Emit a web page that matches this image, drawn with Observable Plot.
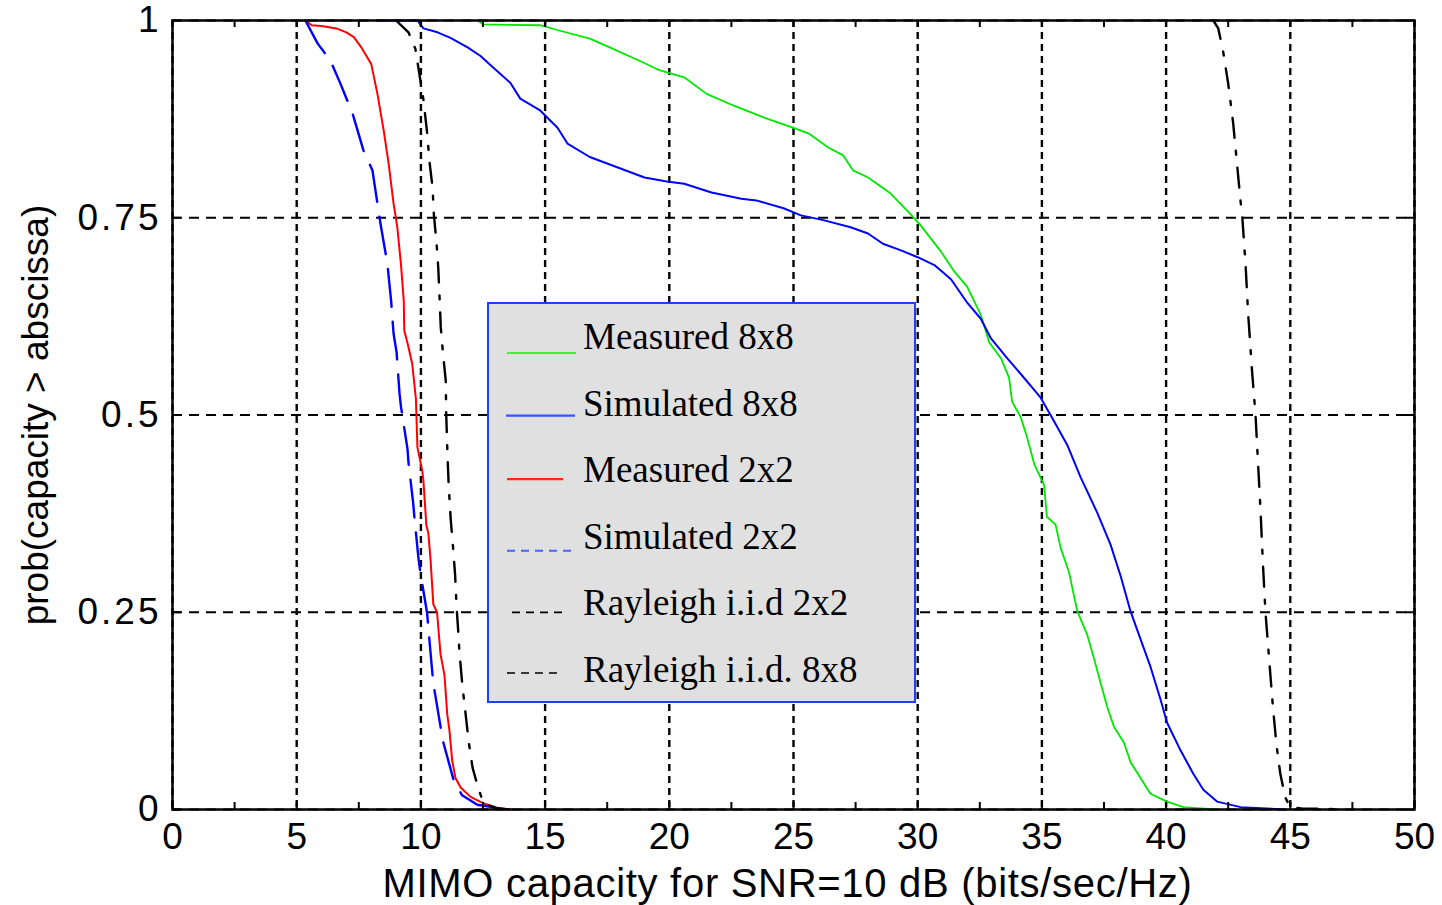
<!DOCTYPE html>
<html><head><meta charset="utf-8">
<script src="https://cdn.jsdelivr.net/npm/d3@7"></script>
<script src="https://cdn.jsdelivr.net/npm/@observablehq/plot@0.6"></script>
<style>
html,body{margin:0;padding:0;background:#fff;}
#wrap{position:relative;width:1442px;height:905px;}
#legend{position:absolute;left:487px;top:302px;width:425px;height:397px;background:#e0e0e0;border:2px solid #1f3fff;}
#legend svg{display:block;}
</style></head>
<body>
<div id="wrap"><div id="chart"></div><div id="legend"></div></div>
<script>
// ---- data (capacity in bits/sec/Hz, probability capacity > abscissa) ----
const measured8x8 = [[12.3,1],[12.5,0.995],[14.8,0.994],[15.6,0.987],[16.8,0.977],[17.6,0.966],[18.8,0.949],[19.6,0.937],[20.6,0.928],[21.5,0.907],[22.6,0.892],[23.9,0.876],[25.0,0.864],[25.6,0.857],[26.4,0.839],[27.0,0.829],[27.4,0.81],[28.0,0.801],[28.9,0.781],[29.7,0.755],[30.1,0.741],[30.94,0.707],[31.47,0.682],[32.0,0.662],[32.54,0.627],[32.88,0.592],[33.35,0.572],[33.68,0.547],[33.8,0.517],[34.15,0.497],[34.4,0.472],[34.7,0.437],[35.09,0.411],[35.2,0.371],[35.55,0.361],[35.76,0.331],[36.09,0.301],[36.29,0.271],[36.43,0.251],[36.83,0.221],[37.1,0.191],[37.36,0.161],[37.63,0.13],[37.9,0.105],[38.3,0.085],[38.57,0.06],[38.97,0.04],[39.37,0.02],[40.04,0.01],[40.7,0.003],[42.0,0]];
const simulated8x8 = [[8.25,1],[9.86,1],[10.1,0.99],[10.67,0.985],[11.19,0.978],[11.88,0.966],[12.4,0.955],[12.92,0.94],[13.6,0.921],[14.0,0.901],[14.8,0.886],[15.5,0.864],[15.9,0.844],[16.8,0.827],[17.9,0.814],[19.0,0.801],[19.9,0.796],[20.6,0.793],[21.7,0.782],[22.9,0.774],[23.5,0.772],[24.6,0.762],[25.3,0.753],[26.2,0.747],[27.3,0.738],[28.0,0.73],[28.6,0.717],[29.3,0.709],[30.0,0.7],[30.67,0.69],[31.34,0.672],[32.0,0.642],[32.54,0.622],[32.95,0.597],[33.6,0.572],[34.15,0.552],[34.95,0.522],[35.49,0.492],[36.02,0.462],[36.56,0.421],[37.23,0.376],[37.76,0.336],[38.17,0.296],[38.57,0.251],[38.97,0.216],[39.37,0.181],[39.77,0.14],[40.04,0.11],[40.58,0.075],[41.1,0.045],[41.5,0.025],[42.05,0.01],[43.0,0.003],[44.8,0]];
const measured2x2 = [[5.35,1],[5.6,0.994],[6.0,0.993],[6.6,0.99],[7.0,0.985],[7.3,0.979],[7.6,0.966],[8.0,0.945],[8.25,0.907],[8.5,0.861],[8.7,0.819],[8.9,0.768],[9.05,0.738],[9.2,0.69],[9.31,0.645],[9.33,0.607],[9.47,0.59],[9.65,0.565],[9.8,0.52],[9.86,0.459],[10.05,0.43],[10.1,0.417],[10.22,0.36],[10.3,0.35],[10.39,0.316],[10.5,0.26],[10.65,0.25],[10.79,0.197],[10.95,0.17],[11.06,0.121],[11.15,0.1],[11.26,0.062],[11.39,0.04],[11.6,0.028],[12.0,0.016],[12.5,0.008],[13.1,0.002],[13.6,0]];
const simulated2x2 = [[5.35,1],[5.84,0.971],[6.36,0.949],[6.76,0.92],[7.25,0.882],[7.69,0.835],[8.05,0.81],[8.25,0.768],[8.37,0.743],[8.65,0.692],[8.8,0.645],[8.9,0.603],[9.02,0.58],[9.14,0.527],[9.2,0.51],[9.46,0.457],[9.5,0.44],[9.69,0.388],[9.74,0.37],[9.9,0.319],[9.98,0.3],[10.25,0.249],[10.3,0.23],[10.45,0.177],[10.5,0.16],[10.79,0.105],[10.86,0.09],[11.32,0.037],[11.66,0.018],[12.27,0.006],[13.47,0]];
const rayleigh2x2 = [[9.0,1],[9.5,0.985],[9.78,0.964],[9.95,0.93],[10.1,0.9],[10.25,0.858],[10.35,0.82],[10.47,0.788],[10.52,0.755],[10.63,0.718],[10.7,0.686],[10.75,0.65],[10.8,0.611],[10.89,0.578],[11.0,0.544],[11.02,0.5],[11.07,0.45],[11.12,0.41],[11.2,0.368],[11.3,0.33],[11.38,0.296],[11.43,0.26],[11.5,0.227],[11.55,0.2],[11.67,0.157],[11.8,0.121],[11.92,0.087],[12.08,0.053],[12.3,0.028],[12.52,0.008],[13.0,0.002],[13.6,0]];
const rayleigh8x8 = [[41.9,1],[42.1,0.99],[42.3,0.96],[42.5,0.92],[42.7,0.87],[42.85,0.82],[43.0,0.77],[43.07,0.75],[43.2,0.69],[43.3,0.63],[43.45,0.56],[43.6,0.5],[43.7,0.44],[43.8,0.38],[43.9,0.31],[44.0,0.25],[44.15,0.19],[44.3,0.13],[44.45,0.08],[44.6,0.045],[44.8,0.015],[45.0,0.003],[45.5,0.001],[46.5,0.001],[47.0,0]];

const seriesNames = ["Measured 8x8","Simulated 8x8","Measured 2x2","Simulated 2x2","Rayleigh i.i.d 2x2","Rayleigh i.i.d. 8x8"];
const xTicks = [0,5,10,15,20,25,30,35,40,45,50];
const xMinorTicks = [0,2.5,5,7.5,10,12.5,15,17.5,20,22.5,25,27.5,30,32.5,35,37.5,40,42.5,45,47.5,50];
const yTicks = [0,0.25,0.5,0.75,1];
const xLabel = "MIMO capacity for SNR=10 dB (bits/sec/Hz)";
const yLabel = "prob(capacity > abscissa)";

// ---- styles ----
const seriesData = [measured8x8, simulated8x8, measured2x2, simulated2x2, rayleigh2x2, rayleigh8x8];
const lineStyles = [
  {stroke:"#00e800", width:1.8, dash:null},
  {stroke:"#0000ff", width:2, dash:null},
  {stroke:"#ff0000", width:2, dash:null},
  {stroke:"#0000ff", width:2.4, dash:"38,15"},
  {stroke:"#000000", width:2.4, dash:"20,13,4,13"},
  {stroke:"#000000", width:2.4, dash:"20,13,4,13"}
];
const legendStyles = [
  {stroke:"#44ee44", width:2, dash:null, x0:18, len:69, dy:4},
  {stroke:"#3355ff", width:2.2, dash:null, x0:17, len:69, dy:0},
  {stroke:"#ff2a00", width:2.2, dash:null, x0:18, len:56, dy:-3},
  {stroke:"#4466ff", width:2, dash:"8,6", x0:18, len:64, dy:2},
  {stroke:"#000000", width:1.6, dash:"8,6", x0:23, len:50, dy:-3},
  {stroke:"#000000", width:1.6, dash:"8,6", x0:18, len:50, dy:-9}
];

const W = 1442, H = 905, mL = 172, mR = 28, mT = 20, mB = 96;
const innerW = W - mL - mR, innerH = H - mT - mB;

const chart = Plot.plot({
  width: W, height: H,
  marginLeft: mL, marginRight: mR, marginTop: mT, marginBottom: mB,
  x: {domain: [0, 50]},
  y: {domain: [0, 1]},
  style: {fontFamily: '"Liberation Sans", Arial, sans-serif', fontSize: "37px", background: "#fff", color: "#000"},
  marks: [
    Plot.gridX(xTicks, {stroke: "#000", strokeOpacity: 1, strokeWidth: 2.4, strokeDasharray: "7,5"}),
    Plot.gridY(yTicks, {stroke: "#000", strokeOpacity: 1, strokeWidth: 2, strokeDasharray: "10,7"}),
    ...seriesData.map((d, i) => Plot.line(d, {x: p => p[0], y: p => p[1], stroke: lineStyles[i].stroke, strokeWidth: lineStyles[i].width, strokeDasharray: lineStyles[i].dash})),
    Plot.ruleX(xMinorTicks, {insetTop: innerH - 7, stroke: "#000", strokeWidth: 2}),
    Plot.ruleX(xMinorTicks, {insetBottom: innerH - 7, stroke: "#000", strokeWidth: 2}),
    Plot.ruleY(yTicks, {insetRight: innerW - 9, stroke: "#000", strokeWidth: 2}),
    Plot.ruleY(yTicks, {insetLeft: innerW - 9, stroke: "#000", strokeWidth: 2}),
    Plot.frame({stroke: "#000", strokeWidth: 2.5}),
    Plot.axisX(xTicks, {tickSize: 0, tickPadding: 13, fontSize: 37, label: null, tickFormat: d => String(d)}),
    Plot.axisY(yTicks, {tickSize: 0, tickPadding: 11, fontSize: 37, label: null, tickFormat: d => String(d)}),
    Plot.text([xLabel], {text: d => d, frameAnchor: "bottom", dy: 87, dx: -6, fontSize: 40}),
    Plot.text([yLabel], {text: d => d, frameAnchor: "left", textAnchor: "middle", rotate: -90, dx: -136, fontSize: 37})
  ]
});
d3.select(chart).selectAll('g[aria-label="y-axis tick label"] text').style("letter-spacing", "3px");
d3.select(chart).selectAll('g[aria-label="text"] text').filter(function() { return this.textContent === xLabel; }).style("letter-spacing", "0.7px");
document.getElementById("chart").appendChild(chart);

// ---- legend ----
const lg = d3.select("#legend").append("svg").attr("width", 425).attr("height", 397);
seriesNames.forEach((name, i) => {
  const s = legendStyles[i];
  const base = 45 + 66.6 * i;
  lg.append("line").attr("x1", s.x0).attr("x2", s.x0 + s.len)
    .attr("y1", base + s.dy).attr("y2", base + s.dy)
    .attr("stroke", s.stroke).attr("stroke-width", s.width)
    .attr("stroke-dasharray", s.dash);
  lg.append("text").attr("x", 94).attr("y", base)
    .attr("font-family", '"Liberation Serif", "Times New Roman", serif')
    .attr("font-size", 37).attr("fill", "#000").text(name);
});
</script>
</body></html>
